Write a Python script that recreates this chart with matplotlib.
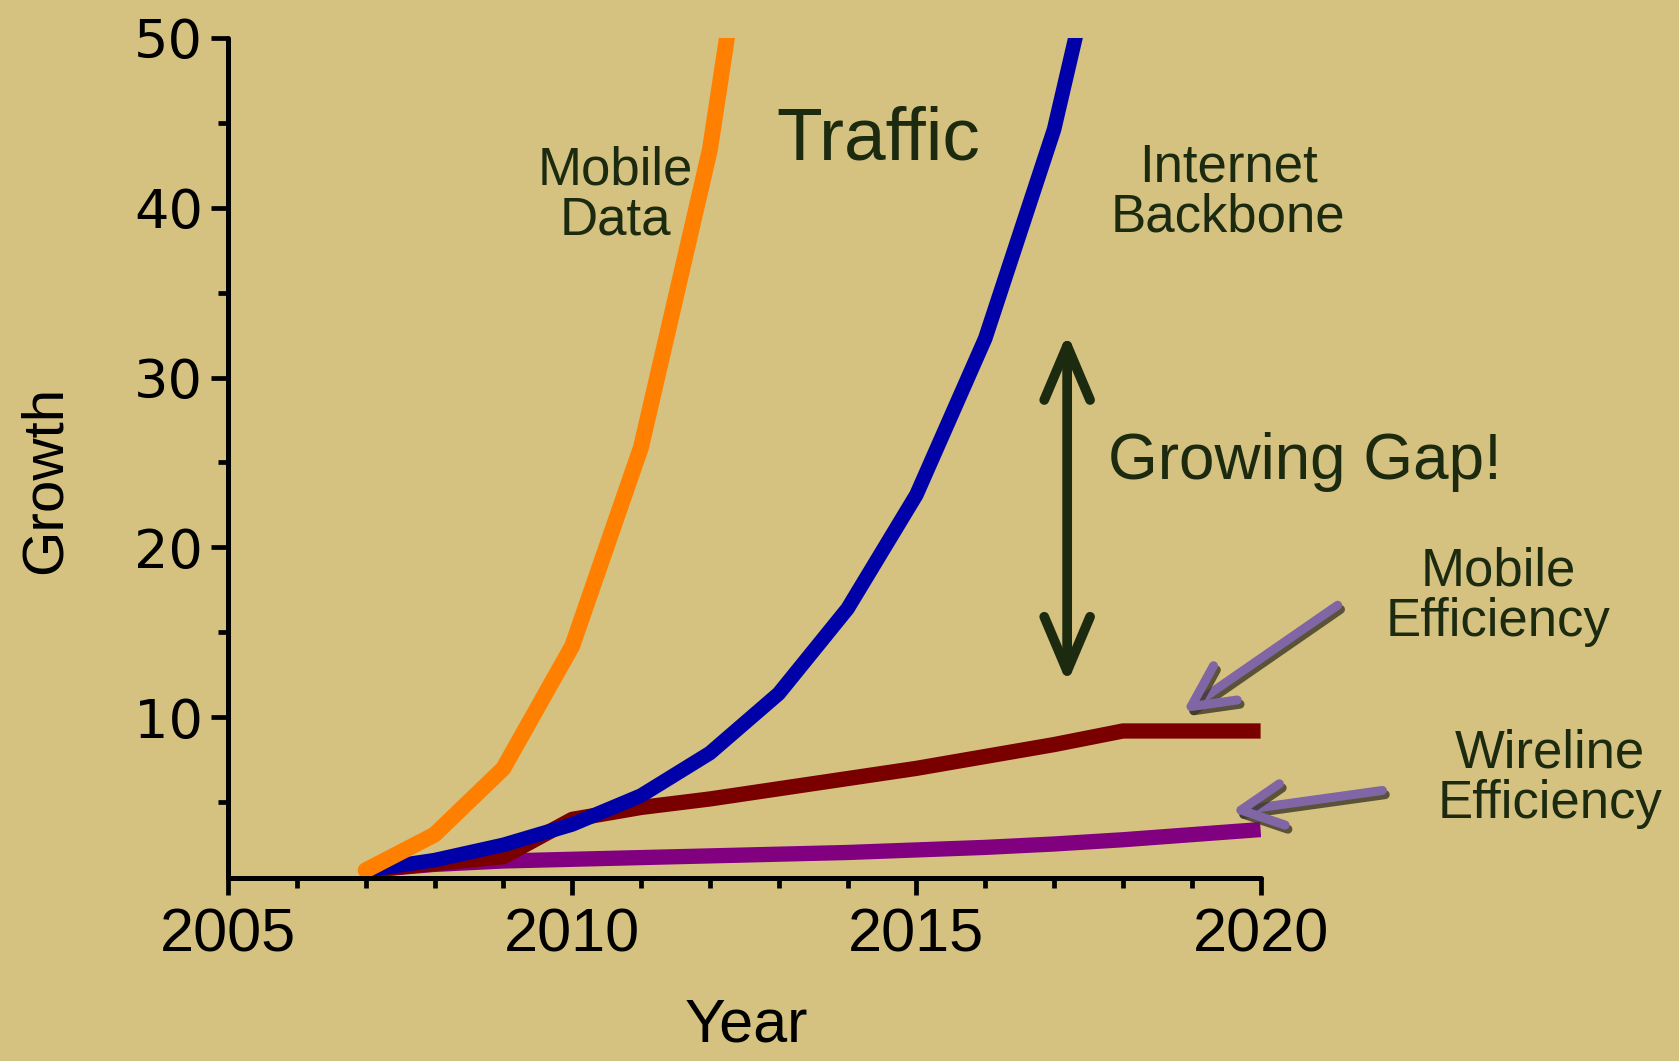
import matplotlib
matplotlib.use("Agg")
import matplotlib.pyplot as plt
import matplotlib.patheffects as pe

years = [2007, 2008, 2009, 2010, 2011, 2012, 2013, 2014, 2015, 2016, 2017, 2018, 2019, 2020]
mobile_data = [1, 3.1, 7.0, 14.2, 25.9, 43.4, 70]
backbone = [1, 1.6, 2.5, 3.7, 5.4, 7.9, 11.4, 16.4, 23.1, 32.3, 44.6, 62]
mobile_eff = [1, 1.4, 1.8, 4.0, 4.7, 5.2, 5.8, 6.4, 7.0, 7.7, 8.4, 9.2, 9.2, 9.2]
wireline_eff = [1, 1.35, 1.55, 1.65, 1.75, 1.85, 1.95, 2.05, 2.2, 2.35, 2.55, 2.8, 3.1, 3.4]

x_ticks = [2005, 2010, 2015, 2020]
y_ticks = [10, 20, 30, 40, 50]

bg = "#d5c280"
txt = "#1c2a10"
arrow_purple = "#8066a4"

plt.rcParams["font.family"] = ["Liberation Sans", "DejaVu Sans"]

fig = plt.figure(figsize=(16.79, 10.61), dpi=100, facecolor=bg)
ax = fig.add_axes([0.1358, 0.1725, 0.615, 0.792], facecolor=bg)

ax.plot(years, wireline_eff, color="#800080", lw=11, solid_capstyle="butt", solid_joinstyle="round")
ax.plot(years, mobile_eff, color="#7a0000", lw=11, solid_capstyle="butt", solid_joinstyle="round")
ax.plot(years[:len(backbone)], backbone, color="#0000a8", lw=10.5, solid_capstyle="round", solid_joinstyle="round")
ax.plot(years[:len(mobile_data)], mobile_data, color="#ff8000", lw=11.5, solid_capstyle="round", solid_joinstyle="round")

ax.set_xlim(2005, 2020)
ax.set_ylim(0.55, 50)
ax.set_xticks(x_ticks)
ax.set_xticks(range(2005, 2021), minor=True)
ax.set_yticks(y_ticks)
ax.set_yticks([5, 15, 25, 35, 45], minor=True)

for side in ["top", "right"]:
    ax.spines[side].set_visible(False)
for side in ["left", "bottom"]:
    ax.spines[side].set_linewidth(3.6)
    ax.spines[side].set_color("black")
    ax.spines[side].set_capstyle("round")

ax.tick_params(which="major", length=12, width=3.4, direction="out", color="black")
ax.tick_params(which="minor", length=7, width=3.4, direction="out", color="black")
ax.tick_params(axis="x", which="major", labelsize=44, pad=9)
ax.tick_params(axis="y", which="major", labelsize=39, pad=6)
for lab in ax.get_yticklabels():
    lab.set_family("DejaVu Sans")

# the reference crops "Year" at the bottom edge; keep it just inside
fig.text(0.4445, 0.006, "Year", fontsize=44, ha="center", va="bottom", color="black")
fig.text(0.027, 0.548, "Growth", fontsize=42, ha="center", va="center", rotation=90, color="black")

ax.text(2014.44, 44.0, "Traffic", fontsize=54, ha="center", va="center", color=txt)
ax.text(2010.63, 40.7, "Mobile\nData", fontsize=38, ha="center", va="center", color=txt, linespacing=1.0)
ax.text(2019.53, 40.9, "Internet\nBackbone", fontsize=38, ha="center", va="center", color=txt, linespacing=1.0)
ax.text(2020.65, 25.0, "Growing Gap!", fontsize=46, ha="center", va="center", color=txt)
ax.text(2023.45, 17.1, "Mobile\nEfficiency", fontsize=38, ha="center", va="center", color=txt, linespacing=1.0)
ax.text(2024.2, 6.4, "Wireline\nEfficiency", fontsize=38, ha="center", va="center", color=txt, linespacing=1.0)

# gap arrow
ax.annotate("", xy=(2017.19, 32.6), xytext=(2017.19, 12.0), annotation_clip=False,
            arrowprops=dict(arrowstyle="<->, head_length=1.3, head_width=0.55", lw=7, color=txt,
                            mutation_scale=30, shrinkA=0, shrinkB=0, capstyle="round", joinstyle="round"))

shadow = [pe.SimpleLineShadow(offset=(2, -3), shadow_color="#3c3826", alpha=0.8), pe.Normal()]
for tail, head in [((2021.12, 16.6), (2018.87, 10.3)), ((2021.77, 5.7), (2019.57, 4.46))]:
    a = ax.annotate("", xy=head, xytext=tail, annotation_clip=False,
                    arrowprops=dict(arrowstyle="->, head_length=1.0, head_width=0.5", lw=6.5,
                                    color=arrow_purple, mutation_scale=30, shrinkA=0, shrinkB=0))
    a.arrow_patch.set_path_effects(shadow)

fig.savefig("out.png", dpi=100, facecolor=bg)
